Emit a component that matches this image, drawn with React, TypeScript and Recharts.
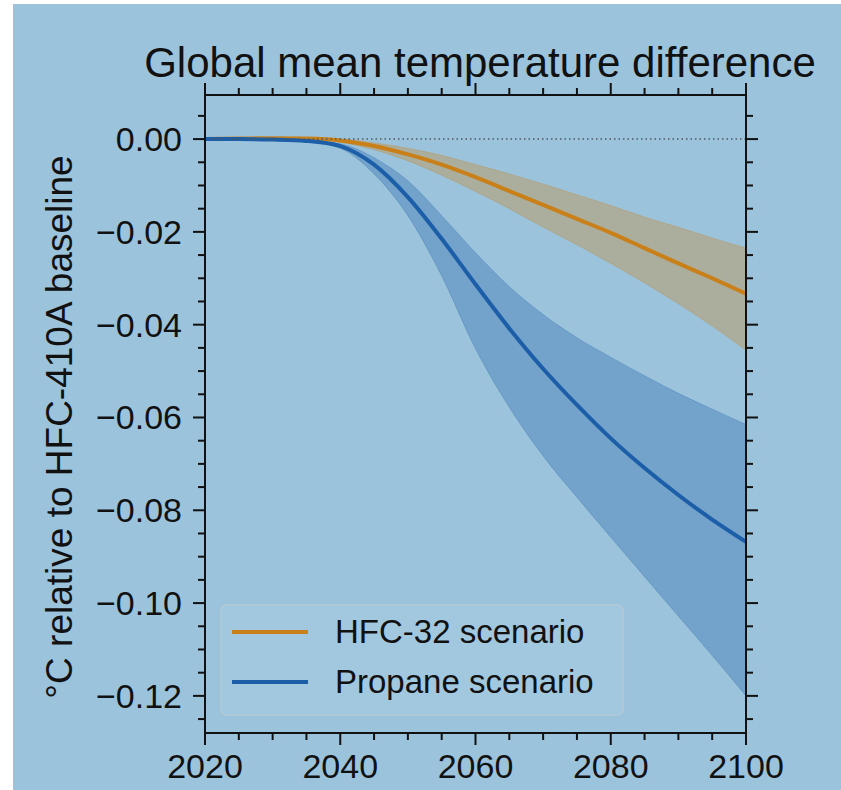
import React from "react";
import {
  ComposedChart, Area, Line, XAxis, YAxis, ReferenceLine,
} from "recharts";

const YEARS = [2020, 2025, 2030, 2035, 2040, 2045, 2050, 2055, 2060, 2065, 2070, 2075, 2080, 2085, 2090, 2095, 2100];

const HFC32_MEAN = [0, 0.0001, 0.0002, 0.0001, -0.0003, -0.0015, -0.0033, -0.0055, -0.0082, -0.0112, -0.0142, -0.0172, -0.0202, -0.0235, -0.0268, -0.03, -0.0333];
const HFC32_HIGH = [0, 0.0001, 0.0002, 0.0002, 0, -0.0008, -0.002, -0.0035, -0.0055, -0.0075, -0.0097, -0.012, -0.0143, -0.0168, -0.019, -0.0213, -0.0235];
const HFC32_LOW = [0, 0, 0.0001, -0.0001, -0.0007, -0.0023, -0.0047, -0.0078, -0.0113, -0.015, -0.019, -0.0228, -0.0268, -0.031, -0.0355, -0.0403, -0.0455];

const PROPANE_MEAN = [0, 0, -0.0001, -0.0004, -0.0015, -0.0055, -0.0125, -0.0215, -0.0313, -0.0408, -0.0495, -0.0573, -0.0645, -0.0709, -0.0767, -0.082, -0.0868];
const PROPANE_HIGH = [0, 0, -0.0001, -0.0003, -0.001, -0.004, -0.009, -0.0165, -0.0245, -0.0318, -0.0378, -0.0428, -0.047, -0.051, -0.0548, -0.0582, -0.0615];
const PROPANE_LOW = [0, 0, -0.0002, -0.0006, -0.002, -0.0075, -0.0165, -0.0295, -0.0452, -0.0578, -0.0683, -0.0772, -0.0858, -0.0943, -0.1028, -0.1113, -0.12];

const X_TICKS = [2020, 2025, 2030, 2035, 2040, 2045, 2050, 2055, 2060, 2065, 2070, 2075, 2080, 2085, 2090, 2095, 2100];
const Y_TICKS = [
  -0.125, -0.12, -0.115, -0.11, -0.105, -0.1, -0.095, -0.09, -0.085, -0.08, -0.075, -0.07, -0.065,
  -0.06, -0.055, -0.05, -0.045, -0.04, -0.035, -0.03, -0.025, -0.02, -0.015, -0.01, -0.005, 0, 0.005,
];

const BG = "#9cc3dc";
const ORANGE = "#c98019";
const BLUE = "#1c5ea8";
const INK = "#111";
const FONT = "'Liberation Sans', Arial, sans-serif";

const data = YEARS.map((year, i) => ({
  year,
  hfc: HFC32_MEAN[i],
  hfcBand: [HFC32_LOW[i], HFC32_HIGH[i]],
  propane: PROPANE_MEAN[i],
  propaneBand: [PROPANE_LOW[i], PROPANE_HIGH[i]],
}));

const isMajorX = (v: number) => v % 20 === 0;
const isMajorY = (v: number) => Math.round(v * 1000) % 20 === 0;
const fmtY = (v: number) => (Math.abs(v) < 1e-9 ? "0.00" : (v < 0 ? "\u2212" : "") + Math.abs(v).toFixed(2));

// eslint-disable-next-line @typescript-eslint/no-explicit-any
const BottomTick = ({ x, y, payload }: any) => {
  const major = isMajorX(payload.value);
  return (
    <g>
      <line x1={x} x2={x} y1={y} y2={y + (major ? 12 : 7)} stroke={INK} strokeWidth={2} />
      {major && (
        <text x={x} y={y + 45} textAnchor="middle" fontSize={34} fontFamily={FONT} fill={INK}>
          {payload.value}
        </text>
      )}
    </g>
  );
};

// eslint-disable-next-line @typescript-eslint/no-explicit-any
const TopTick = ({ x, y, payload }: any) => {
  const major = isMajorX(payload.value);
  return <line x1={x} x2={x} y1={y} y2={y - (major ? 12 : 7)} stroke={INK} strokeWidth={2} />;
};

// eslint-disable-next-line @typescript-eslint/no-explicit-any
const LeftTick = ({ x, y, payload }: any) => {
  const major = isMajorY(payload.value);
  return (
    <g>
      <line x1={x} x2={x - (major ? 12 : 7)} y1={y} y2={y} stroke={INK} strokeWidth={2} />
      {major && (
        <text x={x - 23} y={y + 12} textAnchor="end" fontSize={34} fontFamily={FONT} fill={INK}>
          {fmtY(payload.value)}
        </text>
      )}
    </g>
  );
};

// eslint-disable-next-line @typescript-eslint/no-explicit-any
const RightTick = ({ x, y, payload }: any) => {
  const major = isMajorY(payload.value);
  return <line x1={x} x2={x + (major ? 12 : 7)} y1={y} y2={y} stroke={INK} strokeWidth={2} />;
};

const axisLine = { stroke: INK, strokeWidth: 2 };

export default function App() {
  return (
    <div style={{ position: "absolute", left: 0, top: 0, width: 841, height: 790, background: "#fff" }}>
      <div style={{ position: "absolute", left: 13, top: 4, width: 828, height: 786, background: BG }} />
      <div style={{ position: "absolute", left: 0, top: 0 }}>
        <ComposedChart width={841} height={790} data={data} margin={{ top: 75, right: 55, bottom: 7, left: 55 }}>
          <XAxis
            xAxisId="b" dataKey="year" type="number" domain={[2020, 2100]} ticks={X_TICKS} interval={0}
            orientation="bottom" height={50} tickSize={0} tickMargin={0} tickLine={false}
            axisLine={axisLine} tick={<BottomTick />} allowDataOverflow
          />
          <XAxis
            xAxisId="t" dataKey="year" type="number" domain={[2020, 2100]} ticks={X_TICKS} interval={0}
            orientation="top" height={20} tickSize={0} tickMargin={0} tickLine={false}
            axisLine={axisLine} tick={<TopTick />} allowDataOverflow
          />
          <YAxis
            yAxisId="l" type="number" domain={[-0.128, 0.0095]} ticks={Y_TICKS} interval={0}
            orientation="left" width={150} tickSize={0} tickMargin={0} tickLine={false}
            axisLine={axisLine} tick={<LeftTick />} allowDataOverflow
          />
          <YAxis
            yAxisId="r" type="number" domain={[-0.128, 0.0095]} ticks={Y_TICKS} interval={0}
            orientation="right" width={40} tickSize={0} tickMargin={0} tickLine={false}
            axisLine={axisLine} tick={<RightTick />} allowDataOverflow
          />
          <Area
            xAxisId="b" yAxisId="l" type="monotone" dataKey="hfcBand" fill={ORANGE} fillOpacity={0.32}
            stroke={ORANGE} strokeOpacity={0.25} strokeWidth={1} isAnimationActive={false}
          />
          <Area
            xAxisId="b" yAxisId="l" type="monotone" dataKey="propaneBand" fill={BLUE} fillOpacity={0.32}
            stroke={BLUE} strokeOpacity={0.25} strokeWidth={1} isAnimationActive={false}
          />
          <Line
            xAxisId="b" yAxisId="l" type="monotone" dataKey="hfc" stroke={ORANGE} strokeWidth={4}
            dot={false} activeDot={false} isAnimationActive={false}
          />
          <Line
            xAxisId="b" yAxisId="l" type="monotone" dataKey="propane" stroke={BLUE} strokeWidth={4}
            dot={false} activeDot={false} isAnimationActive={false}
          />
          <ReferenceLine xAxisId="b" yAxisId="r" y={0} stroke="#4d5a63" strokeWidth={1.5} strokeDasharray="1.5 3" />
        </ComposedChart>
      </div>
      <svg width={841} height={790} style={{ position: "absolute", left: 0, top: 0, pointerEvents: "none" }}>
        <text x={480} y={77} textAnchor="middle" fontSize={42} fontFamily={FONT} fill={INK}>
          Global mean temperature difference
        </text>
        <text
          x={72} y={427} textAnchor="middle" fontSize={37} fontFamily={FONT} fill={INK}
          transform="rotate(-90 72 427)"
        >
          °C relative to HFC-410A baseline
        </text>
        <g transform="translate(221,605)">
          <rect x={0} y={0} width={402} height={110} rx={6} fill="#a2c8e0" stroke="#b3c9d6" strokeWidth={1.5} />
          <line x1={11} x2={87} y1={27} y2={27} stroke={ORANGE} strokeWidth={4} />
          <line x1={11} x2={87} y1={77} y2={77} stroke={BLUE} strokeWidth={4} />
          <text x={114} y={38} fontSize={33} fontFamily={FONT} fill={INK}>HFC-32 scenario</text>
          <text x={114} y={88} fontSize={33} fontFamily={FONT} fill={INK}>Propane scenario</text>
        </g>
      </svg>
    </div>
  );
}
